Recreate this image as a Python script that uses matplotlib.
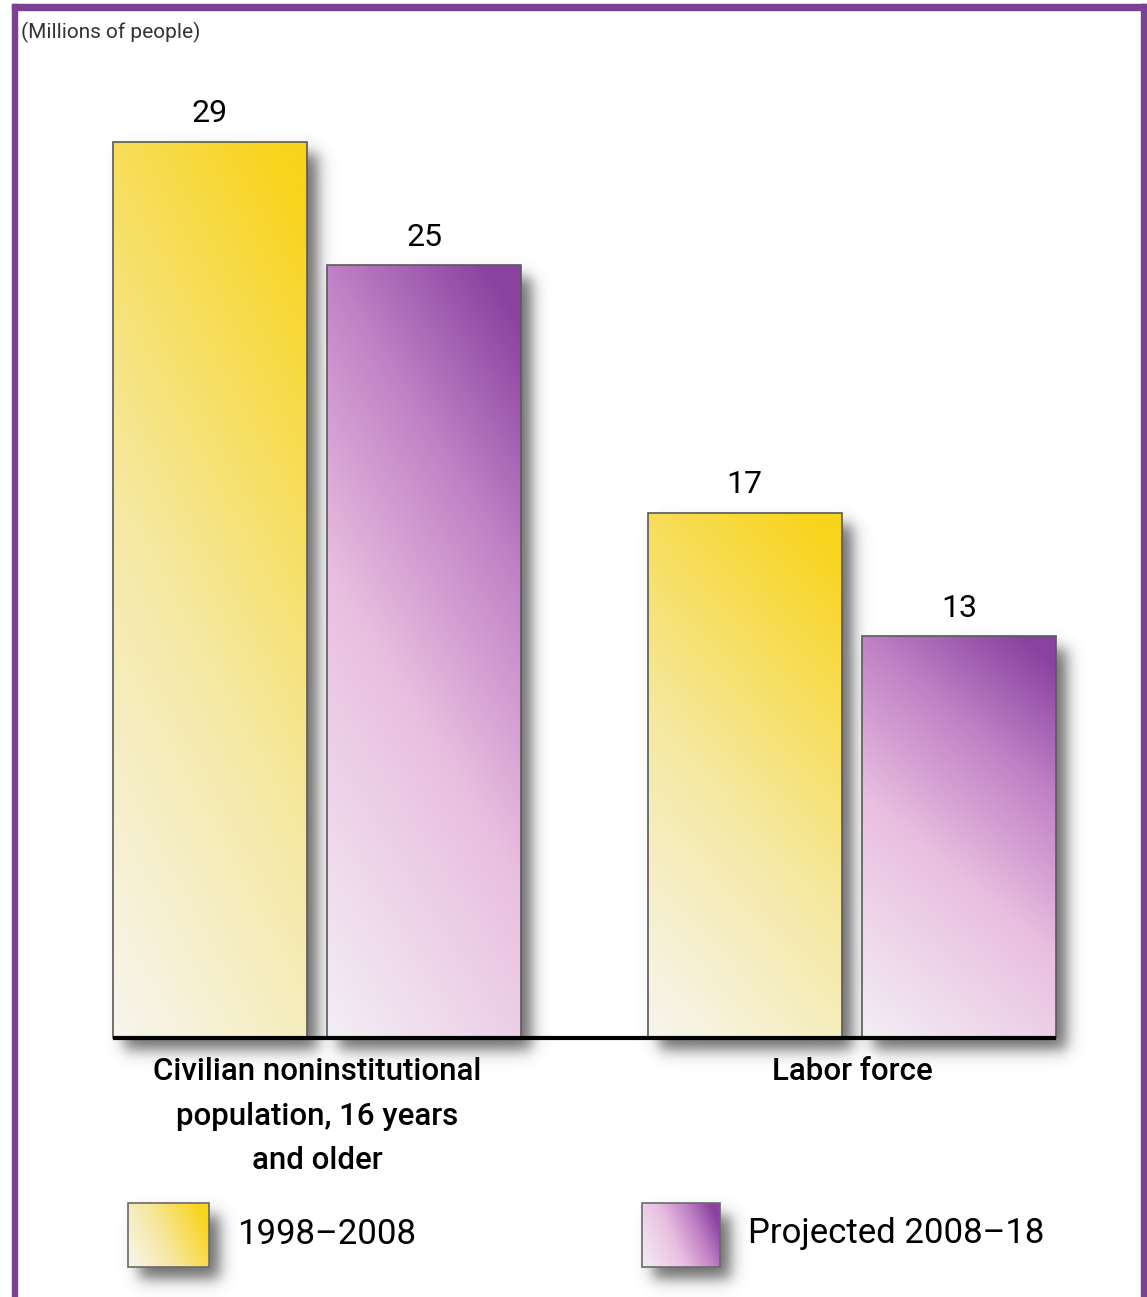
import numpy as np
import matplotlib
matplotlib.use("Agg")
import matplotlib.pyplot as plt
from matplotlib.colors import LinearSegmentedColormap
from matplotlib.patches import Rectangle

# %% DATA
groups = ["Civilian noninstitutional\npopulation, 16 years\nand older", "Labor force"]
past = [29, 17]          # 1998-2008
projected = [25, 13]     # projected 2008-18
series_names = ["1998\u20132008", "Projected 2008\u201318"]
unit_note = "(Millions of people)"

plt.rcParams['font.family'] = ['Roboto', 'DejaVu Sans']

W, H = 1147, 1297
fig = plt.figure(figsize=(W / 100, H / 100), dpi=100)

yellow = LinearSegmentedColormap.from_list(
    'yel', [(0, '#f7f5ee'), (0.45, '#f5e9a4'), (1, '#f9d41c')])
purple = LinearSegmentedColormap.from_list(
    'pur', [(0, '#f3eef5'), (0.45, '#e9bfe0'), (0.75, '#c081c5'), (1, '#8a42a0')])


def px_scale(ax):
    # pixels per data unit along x and y
    p0 = ax.transData.transform((0, 0))
    p1 = ax.transData.transform((1, 1))
    return p1[0] - p0[0], p1[1] - p0[1]


def shadow(ax, x0, y0, x1, y1, dx=11, dy=12, blur=9, alpha=0.8):
    sx, sy = px_scale(ax)
    a, b = x0 + dx / sx, x1 + dx / sx
    c, d = y0 - dy / sy, y1 - dy / sy
    pad_x, pad_y = 3 * blur / sx, 3 * blur / sy
    ex = (a - pad_x, b + pad_x, c - pad_y, d + pad_y)
    nx = int((ex[1] - ex[0]) * sx) + 1
    ny = int((ex[3] - ex[2]) * sy) + 1
    X = np.linspace(ex[0], ex[1], nx) * sx
    Y = np.linspace(ex[2], ex[3], ny) * sy
    fx = 0.5 * (np.tanh((X - a * sx) / blur) - np.tanh((X - b * sx) / blur))
    fy = 0.5 * (np.tanh((Y - c * sy) / blur) - np.tanh((Y - d * sy) / blur))
    img = np.zeros((ny, nx, 4))
    img[..., :3] = 0.28
    img[..., 3] = alpha * np.outer(fy, fx)
    ax.imshow(img, extent=ex, origin='lower', aspect='auto',
              interpolation='bilinear', zorder=1)


def gradient(ax, patch, cmap, wy=0.75, wx=0.3):
    x0, y0 = patch.get_x(), patch.get_y()
    w, h = patch.get_width(), patch.get_height()
    yy, xx = np.mgrid[0:1:200j, 0:1:100j]
    t = np.clip(wy * yy + wx * xx, 0, 1)
    im = ax.imshow(t, cmap=cmap, vmin=0, vmax=1, extent=(x0, x0 + w, y0, y0 + h),
                   origin='lower', aspect='auto', interpolation='bilinear', zorder=3)
    im.set_clip_path(patch)


# %% MAIN AXES
ax = fig.add_axes([0, 0, 1, 1])
ax.axis('off')
xlim = (-0.5925, 1.5514)
ylim = (-8.38, 33.59)
ax.set_xlim(*xlim)
ax.set_ylim(*ylim)

x = np.arange(len(groups))
width = 0.3626
off = 0.2005
bars_a = ax.bar(x - off, past, width, facecolor='none', edgecolor='#5a5a5a', lw=1.2, zorder=4)
bars_b = ax.bar(x + off, projected, width, facecolor='none', edgecolor='#5a5a5a', lw=1.2, zorder=4)

for bars, cmap, vals in [(bars_a, yellow, past), (bars_b, purple, projected)]:
    for p, v in zip(bars, vals):
        shadow(ax, p.get_x(), p.get_y(), p.get_x() + p.get_width(), p.get_y() + p.get_height())
        gradient(ax, p, cmap)
        ax.annotate(str(v), (p.get_x() + p.get_width() / 2, v), xytext=(0, 14),
                    textcoords='offset points', ha='center', va='baseline',
                    fontsize=23, color='black')

left = bars_a[0].get_x()
right = bars_b[-1].get_x() + bars_b[-1].get_width()
ax.plot([left, right], [0, 0], color='black', lw=3, solid_capstyle='butt', zorder=5)

for xi, g in zip(x, groups):
    ax.annotate(g, (xi, 0), xytext=(0, -14), textcoords='offset points',
                ha='center', va='top', fontsize=22.5, fontweight='medium',
                linespacing=1.66, color='black')

ax.set_xlim(*xlim)
ax.set_ylim(*ylim)

# %% FRAME, NOTE AND LEGEND (pixel coordinates, y up)
pax = fig.add_axes([0, 0, 1, 1])
pax.axis('off')
pax.patch.set_alpha(0)
pax.set_xlim(0, W)
pax.set_ylim(0, H)

border = '#7b4192'
pax.add_patch(Rectangle((12, 0), 5, H - 4, color=border, zorder=10))
pax.add_patch(Rectangle((12, H - 10), W - 12, 6, color=border, zorder=10))
pax.add_patch(Rectangle((1141, 0), 6, H - 4, color=border, zorder=10))

pax.text(21, H - 32, unit_note, fontsize=15, color='#333333', ha='left', va='center')

legend_boxes = [(128, 209), (642, 720)]
for (lx0, lx1), cmap, name in zip(legend_boxes, [yellow, purple], series_names):
    sq = Rectangle((lx0, H - 1267), lx1 - lx0, 64, facecolor='none',
                   edgecolor='#6a6a6a', lw=1.2, zorder=4)
    pax.add_patch(sq)
    shadow(pax, lx0, H - 1267, lx1, H - 1203)
    gradient(pax, sq, cmap, wy=0.3, wx=0.8)
    pax.text(lx1 + 28, H - 1234, name, fontsize=25,
             ha='left', va='center', color='black')

pax.set_xlim(0, W)
pax.set_ylim(0, H)

fig.savefig('out.png', dpi=100, facecolor='white')
